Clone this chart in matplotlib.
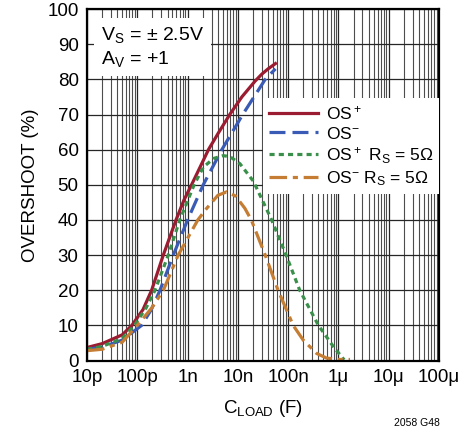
import matplotlib
matplotlib.use('Agg')
import matplotlib.pyplot as plt
from matplotlib.ticker import LogLocator, FixedLocator, NullFormatter
from matplotlib import font_manager

# font: narrow sans if available
fams = {f.name for f in font_manager.fontManager.ttflist}
font = 'Liberation Sans Narrow' if 'Liberation Sans Narrow' in fams else 'Liberation Sans'
plt.rcParams['font.family'] = [font, 'DejaVu Sans']
plt.rcParams['mathtext.default'] = 'regular'

p, n, u = 1e-12, 1e-9, 1e-6

# OS+ (red)
os_pos_c = [10*p, 20*p, 50*p, 78*p, 130*p, 193*p, 329*p, 589*p, 850*p, 1.2*n, 1.77*n,
            2.6*n, 4.2*n, 6.9*n, 12*n, 22*n, 30*n, 40*n, 56*n]
os_pos_v = [3.7, 4.8, 7.3, 10, 14.5, 20, 30, 40, 45.7, 50, 55, 60, 65, 70, 75, 79.5,
            81.5, 83, 84.5]

# OS- (blue)
os_neg_c = [10*p, 20*p, 50*p, 122*p, 190*p, 283*p, 520*p, 1*n, 2.05*n, 4.8*n, 12.5*n,
            35*n, 56*n]
os_neg_v = [3.2, 3.8, 5.8, 10, 14.5, 20, 30, 40, 50, 60, 70, 80, 83]

# OS+ Rs = 5 ohm (green)
os_pos_rs_c = [10*p, 20*p, 50*p, 88*p, 150*p, 225*p, 413*p, 700*p, 1.35*n, 2.05*n,
               3.3*n, 5.1*n, 7*n, 11*n, 20.4*n, 47*n, 91*n, 170*n, 400*n, 790*n, 1.3*u]
os_pos_rs_v = [3.2, 4.0, 6.3, 10, 15, 20, 30, 40, 50, 55, 57.5, 58.3, 58, 56, 51, 40,
               30, 20, 10, 4, 0.2]

# OS- Rs = 5 ohm (orange)
os_neg_rs_c = [10*p, 20*p, 50*p, 100*p, 195*p, 330*p, 650*p, 1.6*n, 2.4*n, 4*n, 6*n,
               9*n, 13.8*n, 18.5*n, 35*n, 63*n, 126*n, 200*n, 370*n, 580*n, 1*u, 1.7*u]
os_neg_rs_v = [2.8, 3.2, 5.2, 10, 15, 20, 30, 40, 43.3, 47, 48, 46.8, 43.3, 40, 30, 20,
               10, 5.8, 2, 0.7, 0.3, 0.3]

x_ticks = [1e-11, 1e-10, 1e-9, 1e-8, 1e-7, 1e-6, 1e-5, 1e-4]
x_labels = ['10p', '100p', '1n', '10n', '100n', '1μ', '10μ', '100μ']
y_ticks = list(range(0, 101, 10))

fig = plt.figure(figsize=(4.77, 4.33), dpi=100)
ax = fig.add_axes([0.1824, 0.1674, 0.7379, 0.8116])

ax.set_xscale('log')
ax.set_xlim(1e-11, 1e-4)
ax.set_ylim(0, 100)

ax.plot(os_pos_c, os_pos_v, color='#9b1b30', lw=2.3, label='OS$^+$', zorder=5)
ax.plot(os_neg_c, os_neg_v, color='#3a5bb5', lw=2.3, dashes=(5, 2.2), label='OS$^{-}$', zorder=5)
ax.plot(os_pos_rs_c, os_pos_rs_v, color='#3a8f4a', lw=2.3, dashes=(1.6, 1.3),
        label='OS$^+$ R$_S$ = 5Ω', zorder=5)
ax.plot(os_neg_rs_c, os_neg_rs_v, color='#c57d33', lw=2.3, dashes=(5.5, 1.8, 1.6, 1.8),
        label='OS$^{-}$ R$_S$ = 5Ω', zorder=5)

ax.xaxis.set_major_locator(FixedLocator(x_ticks))
ax.set_xticklabels(x_labels)
ax.xaxis.set_minor_locator(LogLocator(base=10, subs=range(2, 10), numticks=20))
ax.xaxis.set_minor_formatter(NullFormatter())
ax.set_yticks(y_ticks)

ax.grid(True, which='major', color='0.15', lw=0.9)
ax.grid(True, which='minor', axis='x', color='0.3', lw=0.8)
ax.tick_params(which='both', length=0, labelsize=13.5, pad=6)

for s in ax.spines.values():
    s.set_linewidth(1.6)
    s.set_zorder(6)

ax.set_xlabel('C$_{LOAD}$ (F)', fontsize=13.5, labelpad=9)
ax.set_ylabel('OVERSHOOT (%)', fontsize=13.5, labelpad=6)

ax.text(0.04, 0.955, 'V$_S$ = ± 2.5V\nA$_V$ = +1', transform=ax.transAxes,
        fontsize=14, va='top', ha='left', linespacing=1.25, zorder=7,
        bbox=dict(facecolor='white', edgecolor='none', pad=5))

leg = ax.legend(loc='upper right', bbox_to_anchor=(1.0, 0.747), fontsize=12.5,
                frameon=True, fancybox=False, framealpha=1, edgecolor='none',
                handlelength=2.8, handletextpad=0.45, labelspacing=0.2,
                borderpad=0.35, borderaxespad=0.0)
leg.set_zorder(7)

fig.text(0.922, 0.012, '2058 G48', fontsize=7.5, ha='right', va='bottom')

fig.savefig('out.png', dpi=100)
